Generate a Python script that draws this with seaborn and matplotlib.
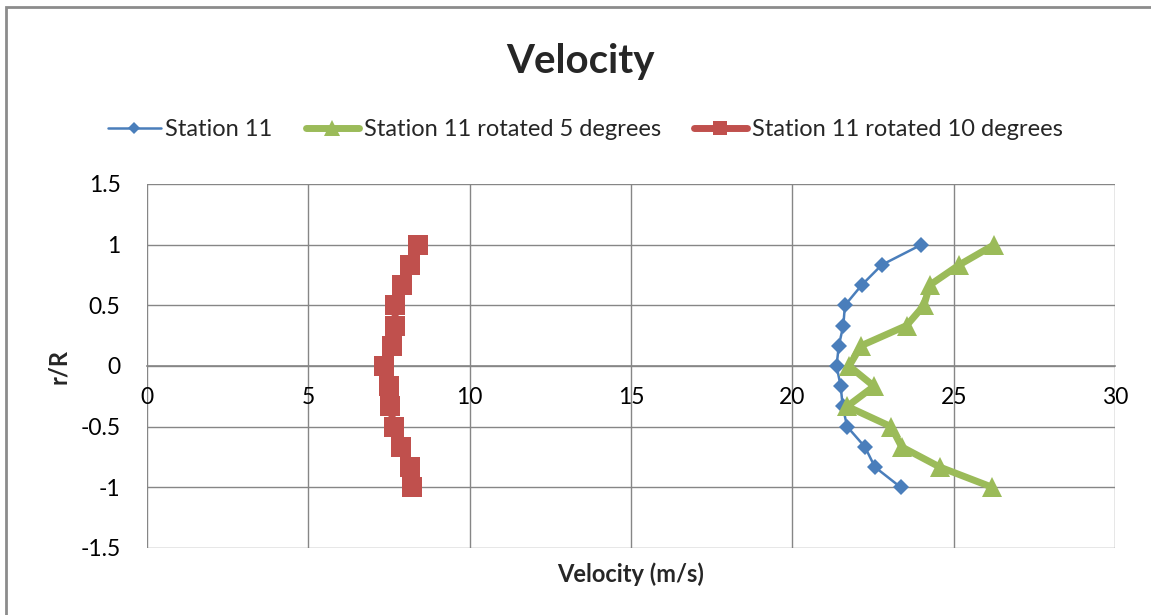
import matplotlib
matplotlib.use("Agg")
import matplotlib.pyplot as plt
import matplotlib.patches as mpatches
import numpy as np
import pandas as pd
import seaborn as sns

# Radial positions (r/R) shared by every traverse
r_over_R = [1.0, 0.833, 0.667, 0.5, 0.333, 0.167, 0.0,
            -0.167, -0.333, -0.5, -0.667, -0.833, -1.0]

# Measured velocities (m/s)
station_11 = [24.0, 22.77, 22.15, 21.63, 21.58, 21.44, 21.37,
              21.50, 21.56, 21.70, 22.25, 22.56, 23.36]
rotated_5 = [26.26, 25.17, 24.26, 24.08, 23.54, 22.13, 21.76,
             22.53, 21.70, 23.06, 23.39, 24.57, 26.20]
rotated_10 = [8.39, 8.16, 7.90, 7.70, 7.68, 7.59, 7.33,
              7.49, 7.53, 7.66, 7.87, 8.15, 8.22]

series_names = ["Station 11", "Station 11 rotated 5 degrees",
                "Station 11 rotated 10 degrees"]
x_ticks = [0, 5, 10, 15, 20, 25, 30]
y_ticks = [-1.5, -1, -0.5, 0, 0.5, 1, 1.5]
y_tick_labels = ["-1.5", "-1", "-0.5", "0", "0.5", "1", "1.5"]

sns.set_theme(style="white")
plt.rcParams["font.family"] = ["Lato", "DejaVu Sans"]

fig = plt.figure(figsize=(11.51, 6.15), dpi=100)
ax = fig.add_axes([147 / 1151, 1 - 548 / 615, (1115 - 147) / 1151, (548 - 184) / 615])

styles = [
    dict(color="#4A7EBB", marker="D", markersize=8, linewidth=1.8),
    dict(color="#9BBB59", marker="^", markersize=15, linewidth=5),
    dict(color="#C0504D", marker="s", markersize=14, linewidth=5),
]
values = [station_11, rotated_5, rotated_10]

handles = []
for name, vals, st in zip(series_names, values, styles):
    df = pd.DataFrame({"v": vals, "r": r_over_R})
    sns.lineplot(data=df, x="v", y="r", sort=False, estimator=None, ax=ax,
                 color=st["color"], linewidth=st["linewidth"],
                 marker=st["marker"], markersize=st["markersize"],
                 markeredgecolor=st["color"], markeredgewidth=0, zorder=3)
    handles.append(plt.Line2D([], [], color=st["color"], linewidth=st["linewidth"],
                              marker=st["marker"], markersize=st["markersize"] * 0.75,
                              markeredgewidth=0))

ax.set_xlim(0, 30)
ax.set_ylim(-1.5, 1.5)
ax.set_xticks(x_ticks)
ax.set_yticks(y_ticks)
ax.set_yticklabels(y_tick_labels)
ax.grid(True, color="#868686", linewidth=1.0)
ax.set_axisbelow(True)

for side in ["top", "right", "left"]:
    ax.spines[side].set_visible(False)
# x axis crosses at r/R = 0
ax.spines["bottom"].set_position(("data", 0))
ax.spines["bottom"].set_color("#868686")
ax.spines["bottom"].set_linewidth(1.2)
ax.tick_params(axis="x", length=0, pad=15, labelsize=16.5, colors="black")
ax.tick_params(axis="y", length=0, pad=19, labelsize=16.5, colors="black")

ax.set_xlabel("Velocity (m/s)", fontsize=17, fontweight="bold")
ax.xaxis.set_label_coords(0.5, -(562 - 548) / 364, transform=ax.transAxes)
ax.xaxis.label.set_verticalalignment("top")
ax.set_ylabel("r/R", fontsize=17, fontweight="bold")
ax.yaxis.set_label_coords(-(147 - 70) / 968, 0.5, transform=ax.transAxes)

fig.text(580 / 1151, 1 - 62 / 615, "Velocity", ha="center", va="center",
         fontsize=29, fontweight="bold")

fig.legend(handles, series_names, loc="center", ncol=3,
           bbox_to_anchor=(585 / 1151, 1 - 130 / 615), frameon=False,
           fontsize=17, handlelength=2.25, handletextpad=0.2, columnspacing=1.4)

# Chart-area border
fig.patches.append(mpatches.Rectangle((6 / 1151, -0.1), 2, 1 - 7 / 615 + 0.1,
                                      transform=fig.transFigure, fill=False,
                                      edgecolor="#8C8C8C", linewidth=2))

fig.savefig("out.png", dpi=100, facecolor="white")
